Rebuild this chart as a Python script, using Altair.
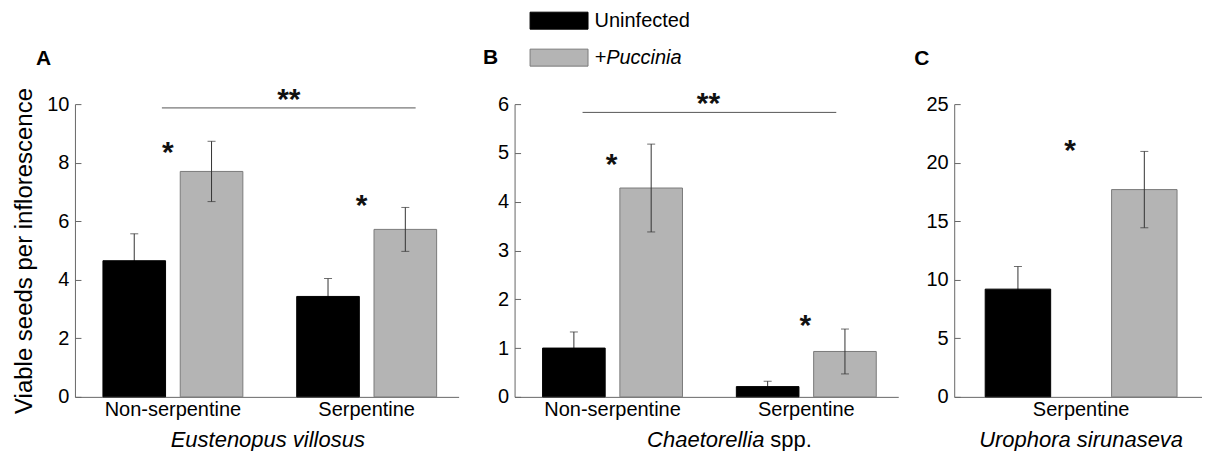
import altair as alt
import pandas as pd

FONT = "Liberation Sans"
treatments = ["Uninfected", "+Puccinia"]
bar_fill = ["#000000", "#b4b4b4"]
bar_stroke = ["#000000", "#7a7a7a"]
AX = "#666666"
ERR = "#333333"

# ---- Panel A : Eustenopus villosus
a_groups = ["Non-serpentine", "Serpentine"]
a_uninf = [4.65, 3.43]
a_uninf_se = [0.92, 0.61]
a_pucc = [7.70, 5.72]
a_pucc_se = [1.03, 0.75]
a_ticks = [0, 2, 4, 6, 8, 10]
a_ymax = 10
a_star_y = [8.48, 6.67]
a_bracket_y = 9.87
a_bracket_star_y = 10.29

# ---- Panel B : Chaetorellia spp.
b_groups = ["Non-serpentine", "Serpentine"]
b_uninf = [1.00, 0.21]
b_uninf_se = [0.33, 0.11]
b_pucc = [4.28, 0.93]
b_pucc_se = [0.90, 0.46]
b_ticks = [0, 1, 2, 3, 4, 5, 6]
b_ymax = 6
b_star_y = [4.84, 1.53]
b_bracket_y = 5.83
b_bracket_star_y = 6.09

# ---- Panel C : Urophora sirunaseva
c_groups = ["Serpentine"]
c_uninf = [9.2]
c_uninf_se = [1.93]
c_pucc = [17.7]
c_pucc_se = [3.26]
c_ticks = [0, 5, 10, 15, 20, 25]
c_ymax = 25
c_star_y = [21.37]

H = 293


def make_df(groups, u, use, p, pse):
    rows = []
    for g, m, s in zip(groups, u, use):
        rows.append(dict(group=g, treatment=treatments[0], mean=m, lo=m - s, hi=m + s))
    for g, m, s in zip(groups, p, pse):
        rows.append(dict(group=g, treatment=treatments[1], mean=m, lo=m - s, hi=m + s))
    return pd.DataFrame(rows)


def panel(df, groups, ymax, ticks, W, xpad, off_pad, star_y, star_dx,
          letter, letter_xy, species, bracket=None, legend=None, ytitle=None):
    ys = alt.Scale(domain=[0, ymax], nice=False, zero=True)
    xs = alt.Scale(domain=groups, paddingInner=xpad[0], paddingOuter=xpad[1], align=xpad[2])
    xos = alt.Scale(domain=treatments, paddingInner=off_pad, paddingOuter=0)
    xaxis = alt.Axis(title=None, labelAngle=0, ticks=False, domainColor=AX, labelFontSize=20,
                     labelPadding=3, labelColor="#000000", grid=False)
    base = alt.Chart(df)

    def X(field):
        return alt.X(field, scale=xs, axis=xaxis)

    yaxis_kw = dict(values=ticks, ticks=False, domainColor=AX, labelFontSize=20,
                    labelPadding=6, labelColor="#000000", grid=False)
    if ytitle:
        yaxis_kw.update(title=ytitle, titleFontSize=24, titleFontWeight="normal",
                        titlePadding=10, titleColor="#000000")
    else:
        yaxis_kw.update(title=None)

    def err_layers(sub, with_axis):
        yax = alt.Axis(orient="right", offset=-W, labels=False, domain=False, ticks=True,
                       tickSize=6, tickColor=AX, values=ticks, title=None,
                       grid=False) if with_axis else None
        rule = sub.mark_rule(color=ERR, strokeWidth=1).encode(
            x=X("group:N"),
            xOffset=alt.XOffset("treatment:N", scale=xos),
            y=alt.Y("lo:Q", scale=ys, axis=yax),
            y2="hi:Q",
        )
        caps = [sub.mark_tick(color=ERR, size=8, thickness=1, orient="horizontal").encode(
            x=X("group:N"),
            xOffset=alt.XOffset("treatment:N", scale=xos),
            y=alt.Y(f + ":Q", scale=ys, axis=None),
        ) for f in ("hi", "lo")]
        return [rule] + caps

    # uninfected error bars sit behind the black bars (lower half hidden)
    err_u = err_layers(base.transform_filter(alt.datum.treatment == treatments[0]), True)
    err_p = err_layers(base.transform_filter(alt.datum.treatment == treatments[1]), False)

    bars = base.mark_bar(strokeWidth=1).encode(
        x=X("group:N"),
        xOffset=alt.XOffset("treatment:N", scale=xos),
        y=alt.Y("mean:Q", scale=ys, axis=alt.Axis(**yaxis_kw)),
        color=alt.Color("treatment:N", scale=alt.Scale(domain=treatments, range=bar_fill),
                        legend=legend),
        stroke=alt.Stroke("treatment:N", scale=alt.Scale(domain=treatments, range=bar_stroke),
                          legend=None),
    )
    sdf = pd.DataFrame({"group": groups, "y": star_y, "label": ["*"] * len(groups)})
    stars = alt.Chart(sdf).mark_text(fontSize=30, fontWeight="bold", baseline="alphabetic",
                                     align="center", dy=13, dx=star_dx, color="#111111").encode(
        x=X("group:N"),
        y=alt.Y("y:Q", scale=ys, axis=None),
        text="label:N",
    )
    layers = err_u + [bars] + err_p + [stars]

    if bracket is not None:
        by, bsy, x0off, x1off, sdx = bracket
        bdf = pd.DataFrame({"start": [groups[0]], "end": [groups[1]], "y": [by],
                            "ys": [bsy], "label": ["**"]})
        rule = alt.Chart(bdf).mark_rule(color="#555555", strokeWidth=1,
                                        xOffset=x0off, x2Offset=x1off).encode(
            x=X("start:N"),
            x2="end:N",
            y=alt.Y("y:Q", scale=ys, axis=None),
        )
        bstar = alt.Chart(bdf).mark_text(fontSize=30, fontWeight="bold", baseline="alphabetic",
                                         align="center", dy=13, dx=sdx, color="#111111").encode(
            x=X("start:N"),
            y=alt.Y("ys:Q", scale=ys, axis=None),
            text="label:N",
        )
        layers += [rule, bstar]

    ldf = pd.DataFrame({"t": [letter]})
    let = alt.Chart(ldf).mark_text(fontSize=21, fontWeight="bold", align="center",
                                   baseline="middle", color="#000000").encode(
        text="t:N", x=alt.value(letter_xy[0]), y=alt.value(letter_xy[1]))
    layers.append(let)

    for txt, style, align, xpos in species:
        tdf = pd.DataFrame({"t": [txt]})
        layers.append(alt.Chart(tdf).mark_text(fontSize=22, fontStyle=style, align=align,
                                               baseline="alphabetic", color="#000000").encode(
            text="t:N", x=alt.value(xpos), y=alt.value(H + 50)))

    return alt.layer(*layers).resolve_axis(y="independent").properties(width=W, height=H)


legend_b = alt.Legend(
    title=None, orient="none", legendX=14, legendY=-93.5, direction="vertical", padding=0,
    symbolType="M-1,-1H5.824V1H-1Z", symbolSize=289, symbolStrokeColor="#555555",
    symbolStrokeWidth=1, symbolOpacity=1, labelFontSize=20, labelOffset=46, rowPadding=15,
    labelColor="#000000",
    labelFontStyle=alt.ExprRef("datum.label == '+Puccinia' ? 'italic' : 'normal'"),
)

WA, WC = 384, 248
pa = panel(make_df(a_groups, a_uninf, a_uninf_se, a_pucc, a_pucc_se), a_groups, a_ymax, a_ticks,
           WA, (0.278, 0.129, 0.56), 0.19, a_star_y, -5, "A", (-31.5, -45),
           [("Eustenopus villosus", "italic", "center", WA / 2 + 1)],
           bracket=(a_bracket_y, a_bracket_star_y, -11, 49, 116),
           legend=None, ytitle="Viable seeds per inflorescence")
pb = panel(make_df(b_groups, b_uninf, b_uninf_se, b_pucc, b_pucc_se), b_groups, b_ymax, b_ticks,
           WA, (0.278, 0.129, 0.56), 0.19, b_star_y, -1, "B", (-24, -46),
           [("Chaetorellia", "italic", "right", 250), ("spp.", "normal", "left", 256)],
           bracket=(b_bracket_y, b_bracket_star_y, -30, 30, 96),
           legend=legend_b)
pc = panel(make_df(c_groups, c_uninf, c_uninf_se, c_pucc, c_pucc_se), c_groups, c_ymax, c_ticks,
           WC, (0.0, 0.1458, 0.554), 0.482, c_star_y, -11, "C", (-32.5, -45.5),
           [("Urophora sirunaseva", "italic", "center", 127)],
           legend=None)

chart = alt.hconcat(pa, pb, pc, spacing=56, bounds="flush").resolve_scale(
    x="independent", y="independent", color="independent", stroke="independent",
    xOffset="independent"
).properties(
    padding={"left": 4, "top": 2, "right": 0, "bottom": 0}
).configure(font=FONT).configure_axis(
    labelFont=FONT, titleFont=FONT
).configure_text(font=FONT).configure_legend(labelFont=FONT).configure_view(stroke=None)

chart.save("out.html", embed_options={"renderer": "svg", "actions": False})
